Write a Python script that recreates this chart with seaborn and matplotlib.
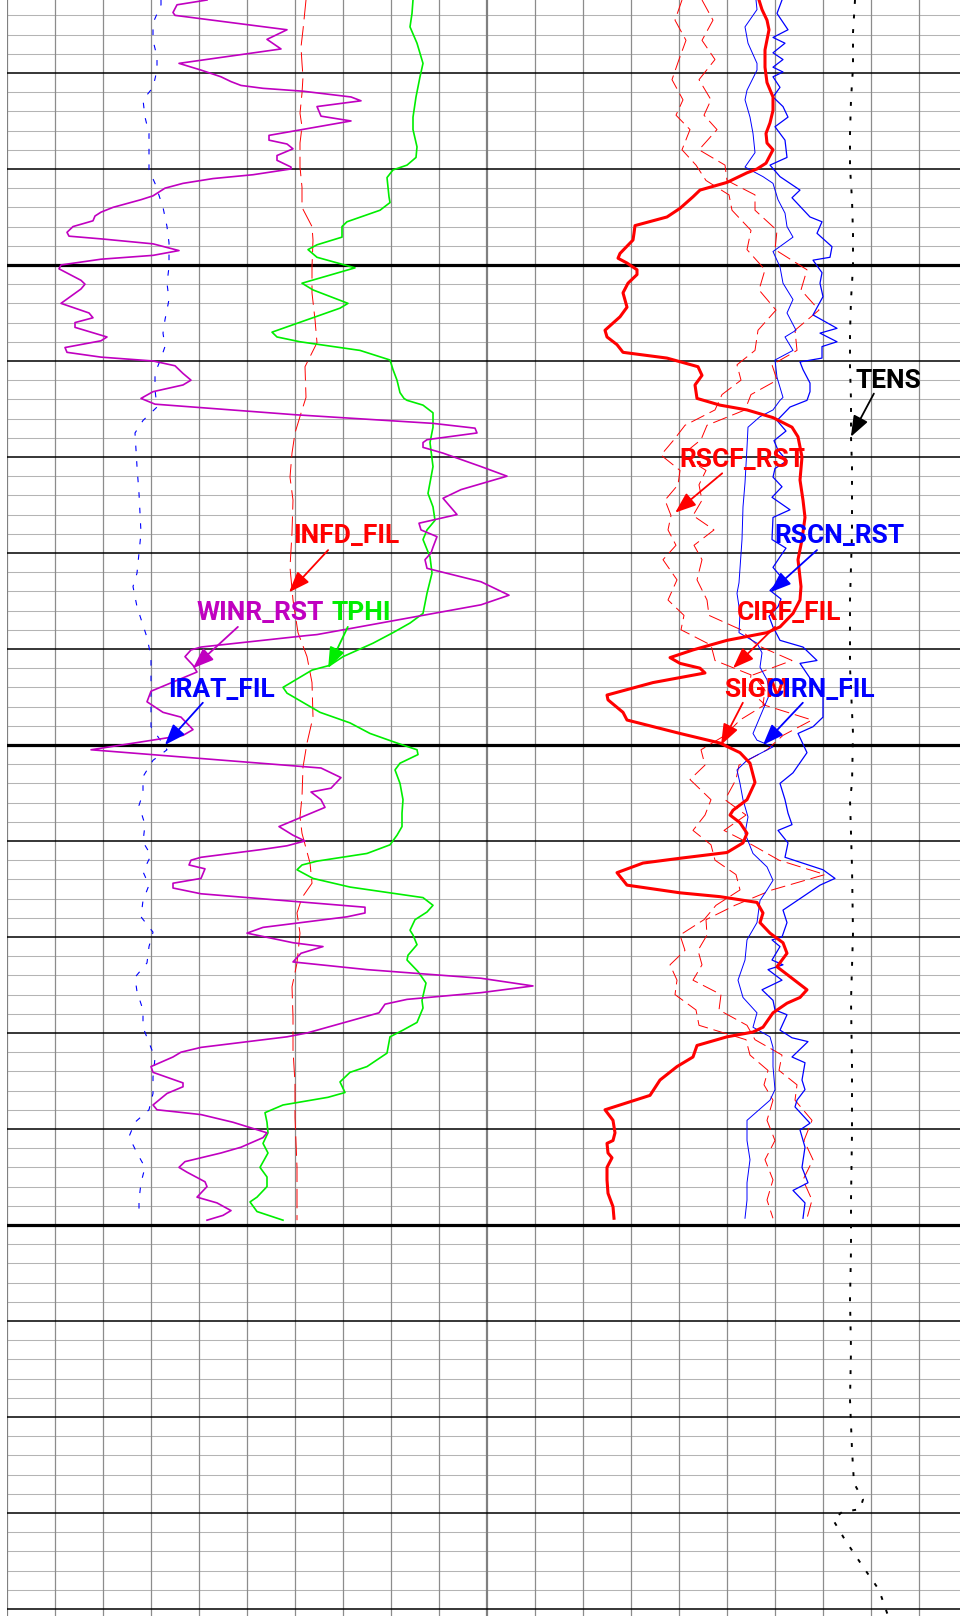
import matplotlib
matplotlib.use("Agg")
import matplotlib.pyplot as plt
import seaborn as sns

# depth window of the log (ft)
top_depth = 5272.4
bottom_depth = 5440.73

# ---------------- left track curves ----------------
# WINR_RST, scale 0 - 2.4
winr_depth = [5272.4, 5272.9, 5273.7, 5274.0, 5275.5, 5276.5, 5277.5, 5279.0, 5279.7, 5280.4,
              5280.9, 5281.3, 5281.6, 5281.9, 5282.5, 5282.9, 5283.5, 5284.5, 5285.0, 5286.5,
              5287.0, 5287.4, 5287.9, 5288.6, 5289.1, 5289.8, 5290.0, 5290.6, 5291.0, 5291.5,
              5292.0, 5292.8, 5293.2, 5294.0, 5294.5, 5294.9, 5295.4, 5296.0, 5296.6, 5297.0,
              5297.3, 5297.8, 5298.5, 5299.0, 5299.4, 5300.0, 5300.4, 5301.6, 5302.0, 5302.5,
              5304.0, 5305.0, 5305.5, 5306.0, 5306.5, 5307.5, 5307.9, 5308.6, 5309.1, 5309.6,
              5310.0, 5310.5, 5311.3, 5312.0, 5312.5, 5313.2, 5313.9, 5314.5, 5315.6, 5316.5,
              5317.0, 5317.5, 5318.2, 5318.5, 5319.0, 5319.6, 5321.0, 5322.0, 5323.4, 5324.3,
              5326.0, 5326.9, 5327.6, 5328.3, 5329.4, 5330.0, 5330.7, 5331.6, 5333.0, 5334.4,
              5335.4, 5338.5, 5338.6, 5339.8, 5340.1, 5340.8, 5341.7, 5342.4, 5344.4, 5345.5,
              5346.6, 5347.1, 5348.4, 5349.0, 5350.5, 5352.4, 5353.4, 5354.5, 5354.9, 5355.7,
              5356.5, 5358.5, 5359.4, 5360.0, 5360.5, 5360.9, 5361.7, 5362.0, 5362.5, 5362.9,
              5363.9, 5364.4, 5364.9, 5365.5, 5366.9, 5367.5, 5367.9, 5369.0, 5369.6, 5370.6,
              5371.0, 5371.7, 5372.6, 5373.4, 5374.3, 5375.1, 5375.8, 5376.5, 5377.0, 5377.9,
              5380.0, 5380.4, 5381.5, 5382.0, 5382.5, 5383.5, 5384.1, 5385.2, 5385.6, 5386.3,
              5387.5, 5388.0, 5388.5, 5389.3, 5390.4, 5390.9, 5391.9, 5392.5, 5393.4, 5394.0,
              5394.5, 5395.5, 5396.0, 5397.1, 5397.7, 5398.5, 5399.0, 5399.5]
winr_val = [1.00, 0.85, 0.83, 0.84, 1.40, 1.30, 1.37, 0.86, 0.97, 1.07,
            1.12, 1.17, 1.28, 1.48, 1.72, 1.77, 1.55, 1.57, 1.72, 1.31,
            1.31, 1.40, 1.43, 1.35, 1.35, 1.42, 1.42, 1.23, 1.03, 0.88,
            0.79, 0.73, 0.67, 0.53, 0.47, 0.44, 0.43, 0.33, 0.30, 0.31,
            0.48, 0.73, 0.86, 0.73, 0.47, 0.27, 0.26, 0.37, 0.39, 0.37,
            0.27, 0.41, 0.43, 0.34, 0.34, 0.50, 0.47, 0.29, 0.30, 0.47,
            0.73, 0.84, 0.88, 0.92, 0.88, 0.73, 0.67, 0.74, 1.44, 2.13,
            2.34, 2.35, 2.10, 2.08, 2.08, 2.18, 2.37, 2.50, 2.27, 2.18,
            2.25, 2.06, 2.07, 2.15, 2.13, 2.12, 2.09, 2.10, 2.37, 2.51,
            2.37, 1.55, 1.50, 0.97, 0.92, 0.89, 0.93, 0.95, 0.72, 0.70,
            0.78, 0.87, 0.93, 0.88, 0.42, 1.57, 1.67, 1.62, 1.52, 1.57,
            1.59, 1.36, 1.43, 1.49, 1.40, 1.27, 0.97, 0.92, 0.91, 0.99,
            0.97, 0.83, 0.83, 0.97, 1.79, 1.79, 1.70, 1.28, 1.20, 1.43,
            1.58, 1.47, 1.43, 1.80, 2.37, 2.63, 2.37, 2.00, 1.89, 1.86,
            1.50, 1.40, 0.97, 0.87, 0.83, 0.72, 0.73, 0.88, 0.88, 0.80,
            0.73, 0.75, 0.97, 1.13, 1.30, 1.28, 1.17, 1.07, 0.89, 0.86,
            0.90, 0.99, 1.00, 0.95, 1.05, 1.12, 1.08, 1.00]

# IRAT_FIL, scale 0 - 2.4
irat_depth = [5272.4, 5272.9, 5274.8, 5276.6, 5278.3, 5279.7, 5281.5, 5282.8, 5284.6, 5286.3,
              5288.0, 5290.1, 5291.5, 5294.0, 5296.0, 5297.7, 5300.2, 5301.9, 5303.6, 5305.7,
              5307.1, 5308.5, 5309.7, 5311.3, 5313.0, 5314.8, 5316.2, 5317.5, 5321.0, 5323.8,
              5327.9, 5332.1, 5333.5, 5335.6, 5338.8, 5340.8, 5342.9, 5344.6, 5348.1, 5350.5,
              5351.6, 5353.3, 5355.0, 5356.3, 5358.3, 5360.1, 5361.5, 5363.2, 5364.6, 5366.2,
              5367.9, 5369.5, 5371.0, 5372.7, 5374.2, 5375.7, 5377.6, 5379.4, 5381.0, 5382.6,
              5384.6, 5386.3, 5388.0, 5389.3, 5390.8, 5392.5, 5394.0, 5395.6, 5397.4, 5399.3]
irat_val = [0.77, 0.77, 0.73, 0.73, 0.75, 0.75, 0.73, 0.68, 0.69, 0.71,
            0.71, 0.71, 0.74, 0.78, 0.80, 0.81, 0.81, 0.80, 0.81, 0.79,
            0.78, 0.79, 0.77, 0.74, 0.74, 0.75, 0.68, 0.64, 0.65, 0.66,
            0.67, 0.65, 0.63, 0.65, 0.70, 0.72, 0.72, 0.72, 0.72, 0.80,
            0.73, 0.68, 0.68, 0.66, 0.69, 0.68, 0.72, 0.68, 0.71, 0.68,
            0.67, 0.73, 0.71, 0.70, 0.64, 0.65, 0.68, 0.68, 0.71, 0.74,
            0.73, 0.73, 0.71, 0.64, 0.61, 0.65, 0.69, 0.67, 0.66, 0.66]

# INFD_FIL, scale 0 - 4800
infd_depth = [5272.4, 5275.5, 5277.3, 5279.0, 5280.4, 5282.1, 5284.2, 5285.6, 5287.3, 5289.8,
              5291.9, 5294.0, 5296.0, 5297.4, 5300.2, 5302.9, 5305.7, 5308.1, 5310.6, 5313.8,
              5315.1, 5317.5, 5319.6, 5322.1, 5324.5, 5327.9, 5331.5, 5334.9, 5338.3, 5340.8,
              5343.5, 5347.1, 5349.8, 5352.3, 5355.4, 5357.5, 5359.2, 5362.3, 5364.4, 5365.9,
              5367.5, 5369.6, 5372.7, 5375.2, 5378.3, 5381.8, 5385.2, 5388.8, 5394.0, 5399.5]
infd_val = [2990, 2960, 2940, 2950, 2960, 2950, 2930, 2950, 2930, 2930,
            2950, 2950, 3050, 3060, 3050, 3050, 3080, 3100, 2980, 2990,
            2950, 2880, 2850, 2830, 2860, 2850, 2830, 2860, 2910, 3000,
            3050, 3060, 3000, 2960, 2950, 2930, 2950, 3030, 3050, 2950,
            2900, 2930, 2900, 2850, 2860, 2860, 2880, 2880, 2900, 2900]

# TPHI, scale 0 - 0.48
tphi_depth = [5272.4, 5273.8, 5275.2, 5276.9, 5279.0, 5280.4, 5282.5, 5284.6, 5285.9, 5287.7,
              5288.8, 5289.6, 5290.1, 5290.9, 5292.9, 5293.5, 5294.3, 5295.5, 5296.0, 5297.1,
              5297.9, 5298.4, 5299.2, 5300.3, 5301.9, 5302.6, 5304.0, 5304.5, 5307.0, 5307.5,
              5308.0, 5308.9, 5309.9, 5310.9, 5312.0, 5313.3, 5313.9, 5314.1, 5314.6, 5315.4,
              5316.9, 5318.5, 5321.0, 5323.8, 5325.2, 5326.6, 5327.6, 5328.6, 5330.4, 5332.1,
              5334.2, 5336.3, 5337.3, 5338.3, 5339.4, 5340.8, 5341.7, 5342.2, 5344.0, 5344.6,
              5346.6, 5347.7, 5348.8, 5349.8, 5350.5, 5351.0, 5351.9, 5352.6, 5354.0, 5355.7,
              5357.1, 5358.5, 5359.4, 5360.4, 5361.3, 5362.1, 5362.5, 5363.0, 5363.9, 5364.8,
              5365.9, 5366.7, 5367.4, 5368.2, 5369.3, 5369.8, 5370.8, 5371.9, 5372.4, 5373.6,
              5374.8, 5376.6, 5377.4, 5378.9, 5379.7, 5380.4, 5382.1, 5383.5, 5384.1, 5385.1,
              5386.2, 5386.7, 5387.5, 5388.3, 5389.3, 5390.4, 5391.5, 5392.5, 5394.0, 5395.0,
              5396.0, 5397.1, 5397.6, 5398.6, 5399.5]
tphi_val = [0.406, 0.405, 0.403, 0.410, 0.416, 0.413, 0.409, 0.406, 0.406, 0.410,
            0.409, 0.400, 0.386, 0.380, 0.382, 0.383, 0.373, 0.340, 0.335, 0.335,
            0.310, 0.301, 0.310, 0.348, 0.295, 0.306, 0.341, 0.333, 0.265, 0.270,
            0.293, 0.353, 0.383, 0.386, 0.390, 0.393, 0.397, 0.400, 0.416, 0.426,
            0.426, 0.423, 0.426, 0.421, 0.426, 0.428, 0.420, 0.416, 0.423, 0.425,
            0.420, 0.416, 0.403, 0.386, 0.366, 0.336, 0.323, 0.305, 0.276, 0.280,
            0.313, 0.343, 0.363, 0.390, 0.410, 0.411, 0.393, 0.388, 0.393, 0.396,
            0.395, 0.395, 0.390, 0.383, 0.360, 0.310, 0.295, 0.290, 0.306, 0.343,
            0.416, 0.426, 0.420, 0.408, 0.403, 0.406, 0.410, 0.401, 0.400, 0.411,
            0.419, 0.415, 0.416, 0.410, 0.396, 0.383, 0.380, 0.360, 0.343, 0.333,
            0.338, 0.321, 0.276, 0.258, 0.260, 0.261, 0.256, 0.261, 0.253, 0.260,
            0.260, 0.250, 0.243, 0.250, 0.276]

# ---------------- right track curves ----------------
# SIGM, scale 0 - 48
sigm_depth = [5272.4, 5273.4, 5274.5, 5275.5, 5277.6, 5279.4, 5281.0, 5282.5, 5283.9, 5285.2,
              5286.3, 5287.3, 5288.0, 5289.4, 5290.0, 5290.4, 5291.4, 5292.2, 5292.9, 5294.1,
              5295.0, 5295.9, 5296.7, 5297.4, 5298.8, 5299.3, 5299.8, 5300.5, 5301.0, 5301.9,
              5302.9, 5304.4, 5305.4, 5306.8, 5307.5, 5308.3, 5309.1, 5309.7, 5310.6, 5311.5,
              5312.5, 5313.9, 5314.6, 5315.1, 5315.9, 5316.9, 5317.9, 5320.0, 5322.4, 5324.5,
              5326.3, 5328.6, 5330.7, 5333.5, 5334.9, 5336.3, 5337.7, 5338.3, 5339.1, 5340.1,
              5340.9, 5341.5, 5342.0, 5342.5, 5343.5, 5344.8, 5345.3, 5346.6, 5347.4, 5348.8,
              5349.8, 5350.8, 5351.9, 5353.9, 5355.7, 5356.8, 5357.3, 5358.1, 5359.2, 5360.2,
              5361.2, 5361.8, 5362.3, 5363.3, 5364.6, 5365.4, 5365.8, 5366.4, 5367.5, 5368.5,
              5369.6, 5370.6, 5371.7, 5373.1, 5375.5, 5376.3, 5376.9, 5377.9, 5379.4, 5379.9,
              5380.4, 5381.3, 5382.5, 5383.5, 5384.9, 5386.5, 5388.0, 5389.1, 5390.4, 5391.2,
              5391.5, 5392.5, 5393.0, 5394.0, 5395.3, 5396.7, 5398.1, 5399.3]
sigm_val = [27.2, 27.5, 28.0, 28.2, 27.8, 27.8, 28.0, 28.6, 28.6, 28.3,
            27.9, 28.0, 28.6, 27.9, 27.0, 26.0, 24.0, 21.3, 20.6, 19.3,
            18.0, 14.8, 14.7, 14.6, 13.3, 13.1, 14.0, 15.0, 15.0, 14.1,
            13.6, 14.0, 13.3, 11.8, 12.0, 13.0, 13.6, 18.0, 21.1, 21.5,
            20.8, 21.0, 23.3, 26.0, 28.6, 30.5, 31.1, 31.5, 31.3, 31.6,
            31.8, 31.5, 31.1, 31.4, 31.3, 30.6, 29.3, 28.0, 24.0, 20.6,
            18.3, 19.3, 21.3, 21.8, 16.6, 12.0, 12.1, 13.6, 14.0, 19.3,
            23.3, 25.3, 26.3, 26.8, 26.0, 24.6, 24.3, 25.3, 26.0, 25.6,
            24.0, 19.3, 15.6, 13.0, 14.0, 19.3, 23.3, 27.0, 27.6, 27.3,
            28.3, 29.6, 30.0, 29.0, 32.0, 31.3, 30.0, 28.6, 27.6, 26.6,
            24.0, 21.0, 20.6, 19.0, 17.3, 16.3, 11.8, 12.6, 12.8, 12.6,
            12.0, 12.1, 12.5, 12.0, 12.0, 12.1, 12.6, 12.7]

# CIRN_FIL, scale 0 - 4800
cirn_depth = [5272.4, 5273.4, 5275.2, 5276.9, 5279.0, 5279.7, 5281.8, 5282.8, 5284.6, 5286.3,
              5288.3, 5289.8, 5290.8, 5291.5, 5293.2, 5294.6, 5296.0, 5297.1, 5298.6, 5300.2,
              5301.9, 5303.6, 5305.0, 5306.8, 5307.5, 5308.9, 5309.9, 5311.7, 5313.8, 5314.1,
              5315.1, 5315.8, 5316.9, 5319.0, 5322.7, 5325.2, 5328.6, 5333.1, 5334.2, 5336.3,
              5338.3, 5339.4, 5340.4, 5341.9, 5343.2, 5344.6, 5348.8, 5349.5, 5350.2, 5351.6,
              5352.6, 5354.0, 5355.7, 5357.5, 5359.2, 5361.3, 5362.7, 5364.1, 5365.1, 5366.2,
              5368.5, 5370.3, 5372.4, 5374.5, 5376.3, 5377.9, 5379.4, 5380.4, 5381.5, 5383.5,
              5385.9, 5387.0, 5389.1, 5391.2, 5393.2, 5395.6, 5397.4, 5399.3]
cirn_val = [2690, 2700, 2580, 2610, 2700, 2700, 2600, 2580, 2630, 2660,
            2680, 2580, 2760, 2860, 2910, 2980, 3000, 3060, 2860, 2930,
            2960, 3060, 3000, 3090, 2980, 3060, 2880, 2900, 2960, 2930,
            2860, 2730, 2610, 2600, 2580, 2560, 2550, 2520, 2500, 2530,
            2520, 2700, 2750, 2730, 2800, 2830, 2660, 2700, 2860, 2600,
            2500, 2530, 2560, 2610, 2580, 2660, 2800, 2860, 2800, 2730,
            2700, 2600, 2580, 2510, 2560, 2700, 2660, 2830, 2860, 2860,
            2880, 2830, 2600, 2600, 2630, 2600, 2600, 2580]

# RSCN_RST, scale 0 - 9600
rscn_depth = [5272.4, 5273.8, 5275.5, 5276.3, 5276.9, 5277.9, 5278.6, 5279.4, 5279.9, 5280.4,
              5281.5, 5282.5, 5283.5, 5284.6, 5285.6, 5287.0, 5288.8, 5289.6, 5290.8, 5292.2,
              5293.0, 5295.0, 5295.5, 5296.7, 5298.1, 5299.2, 5299.5, 5300.8, 5301.9, 5303.3,
              5305.2, 5306.6, 5307.1, 5308.0, 5308.5, 5309.7, 5310.1, 5310.9, 5312.3, 5313.2,
              5314.1, 5314.8, 5316.2, 5317.3, 5318.3, 5319.3, 5320.4, 5321.2, 5322.1, 5323.1,
              5324.2, 5325.5, 5326.3, 5328.6, 5329.5, 5330.4, 5331.5, 5332.6, 5333.9, 5334.8,
              5335.6, 5336.6, 5337.7, 5339.1, 5339.8, 5341.2, 5341.5, 5343.5, 5345.0, 5347.1,
              5348.1, 5348.8, 5350.8, 5352.9, 5354.0, 5355.7, 5357.1, 5358.3, 5358.9, 5360.2,
              5361.7, 5363.0, 5363.9, 5364.6, 5366.5, 5367.2, 5368.5, 5370.0, 5370.3, 5371.0,
              5372.4, 5372.9, 5373.4, 5374.5, 5375.5, 5376.6, 5377.6, 5378.1, 5379.7, 5380.5,
              5380.9, 5382.5, 5383.1, 5384.9, 5385.9, 5387.0, 5387.7, 5389.4, 5390.1, 5391.9,
              5394.0, 5395.6, 5396.4, 5397.7, 5399.3]
rscn_val = [5900, 5800, 6020, 5720, 5960, 5720, 5920, 5720, 5920, 5720,
            5860, 5720, 5920, 6020, 5760, 5960, 6000, 5660, 5860, 6260,
            6100, 6460, 6700, 6600, 6900, 6860, 6520, 6700, 6660, 6720,
            6520, 7000, 6660, 7000, 6700, 6700, 6260, 6320, 6460, 6460,
            6400, 6060, 5800, 5980, 5740, 5820, 6000, 5760, 5720, 5900,
            5700, 6060, 5720, 5700, 5980, 5860, 5720, 5900, 5660, 5880,
            5820, 5640, 5720, 5860, 6320, 6600, 6260, 6520, 6720, 6720,
            6520, 6220, 6400, 6120, 5860, 5960, 6020, 6100, 5820, 6020,
            5960, 6720, 6960, 6660, 6120, 5920, 6000, 5900, 5700, 5860,
            5700, 5920, 5620, 5900, 5500, 5720, 5760, 6000, 5860, 6100,
            6420, 6100, 6360, 6300, 6360, 6200, 6160, 6460, 6260, 6360,
            6300, 6420, 6120, 6360, 6320]

# RSCF_RST (scale 0 - 9600) and CIRF_FIL (scale 0 - 4800) share the same samples
filt_depth = [5272.4, 5274.5, 5276.6, 5278.6, 5280.7, 5282.8, 5284.4, 5285.9, 5288.0, 5289.6,
              5291.2, 5292.7, 5294.3, 5296.4, 5298.4, 5300.5, 5302.6, 5304.7, 5306.8, 5308.9,
              5310.4, 5312.0, 5313.5, 5315.1, 5316.7, 5318.2, 5319.8, 5321.4, 5322.9, 5324.5,
              5326.1, 5327.6, 5329.2, 5330.7, 5332.8, 5334.9, 5336.5, 5338.0, 5339.6, 5341.2,
              5342.7, 5344.3, 5345.8, 5347.4, 5349.0, 5350.5, 5352.1, 5353.6, 5355.7, 5357.3,
              5358.9, 5360.4, 5362.0, 5363.5, 5365.1, 5366.7, 5368.2, 5369.8, 5371.4, 5372.9,
              5374.5, 5376.0, 5377.6, 5379.2, 5380.7, 5382.3, 5383.9, 5385.4, 5387.0, 5389.1,
              5391.2, 5393.2, 5395.3, 5397.4, 5399.3]
rscf_val = [3900, 3760, 3980, 3840, 3700, 3920, 3780, 4060, 3900, 4180,
            4380, 4840, 4900, 5280, 5200, 5560, 5440, 5780, 5420, 5360,
            5000, 5080, 4700, 4560, 3960, 3740, 3480, 3860, 3820, 3560,
            3680, 3620, 3780, 3520, 3800, 3620, 3940, 3880, 4480, 4560,
            5280, 5240, 5560, 5060, 4760, 4280, 4360, 4060, 4480, 4360,
            4120, 4480, 4560, 4980, 5060, 4580, 4340, 3860, 3960, 3660,
            3800, 3760, 4180, 4240, 5180, 5260, 5620, 5540, 5720, 5600,
            5760, 5560, 5720, 5600, 5720]
cirf_val = [2150, 2260, 2150, 2280, 2120, 2240, 2170, 2300, 2120, 2380,
            2400, 2680, 2680, 2900, 2880, 3200, 3140, 3320, 3080, 3100,
            2850, 2900, 2640, 2580, 2200, 2140, 1950, 2190, 2120, 2150,
            2060, 2270, 2070, 2150, 2100, 2200, 2220, 2540, 2700, 3050,
            2660, 2780, 2760, 3250, 2960, 2800, 2520, 2490, 2380, 2590,
            2370, 2650, 2920, 3380, 2850, 2480, 2190, 2200, 2110, 2150,
            2060, 2340, 2320, 2600, 2680, 2950, 2920, 3100, 3080, 3250,
            3170, 3260, 3160, 3250, 3200]

# TENS, scale 0 - 4800
tens_depth = [5272.4, 5275.8, 5279.4, 5282.8, 5286.3, 5289.8, 5293.2, 5296.7, 5300.2, 5303.6,
              5307.1, 5310.6, 5314.1, 5317.9, 5321.0, 5327.9, 5334.9, 5341.9, 5348.8, 5354.0,
              5355.7, 5362.7, 5369.6, 5376.6, 5383.5, 5390.4, 5397.4, 5402.6, 5407.8, 5413.0,
              5418.2, 5423.4, 5426.9, 5428.6, 5429.6, 5429.9, 5430.7, 5432.8, 5435.6, 5438.0,
              5440.4, 5441.2]
tens_val = [3680, 3660, 3660, 3640, 3630, 3630, 3650, 3660, 3660, 3640,
            3630, 3630, 3640, 3640, 3650, 3650, 3630, 3630, 3660, 3650,
            3630, 3650, 3660, 3640, 3650, 3650, 3640, 3640, 3630, 3640,
            3630, 3650, 3670, 3760, 3730, 3550, 3460, 3580, 3760, 3920,
            4000, 4030]

# curve labels: name, colour, track, text pos, arrow start, arrow tip (track divisions, depth)
label_names = ["INFD_FIL", "WINR_RST", "TPHI", "IRAT_FIL",
               "TENS", "RSCF_RST", "RSCN_RST", "CIRF_FIL", "SIGM", "CIRN_FIL"]
label_colors = ["#ff0000", "#c000c0", "#00ee00", "#0000ff",
                "#000000", "#ff0000", "#0000ff", "#ff0000", "#ff0000", "#0000ff"]
label_track = [0, 0, 0, 0, 1, 1, 1, 1, 1, 1]
label_pos = [(5.96, 5329.0), (3.94, 5337.0), (6.77, 5337.0), (3.35, 5345.0),
             (7.67, 5312.8), (4.00, 5321.0), (5.98, 5329.0), (5.21, 5337.0),
             (4.94, 5345.0), (5.83, 5345.0)]
arrow_start = [(6.69, 5329.7), (4.81, 5337.7), (7.10, 5337.7), (4.08, 5345.6),
               (8.06, 5313.4), (4.90, 5321.7), (6.875, 5329.7), (6.00, 5337.7),
               (5.33, 5345.6), (6.58, 5345.6)]
arrow_tip = [(5.875, 5334.1), (3.875, 5342.0), (6.69, 5342.0), (3.29, 5350.0),
             (7.58, 5317.9), (3.92, 5325.8), (5.90, 5334.1), (5.125, 5342.0),
             (4.875, 5350.0), (5.75, 5350.0)]

label_font = ["Roboto", "DejaVu Sans"]

fig = plt.figure(figsize=(9.6, 16.16), dpi=100)
ax_left = fig.add_axes([7 / 960, 0, 480 / 960, 1])
ax_right = fig.add_axes([487 / 960, 0, 480 / 960, 1])
tracks = [ax_left, ax_right]

# grid of each track
for ax in tracks:
    ax.set_xlim(0, 10)
    ax.axis("off")
    for d in range(5274, 5442, 2):
        if d % 50 == 0:
            ax.axhline(d, color="black", lw=2.3, zorder=3)
        elif d % 10 == 0:
            ax.axhline(d, color="black", lw=1.1, zorder=3)
        else:
            ax.axhline(d, color="#b4b4b4", lw=0.75, zorder=1)
    for t in range(11):
        if t in (0, 10):
            ax.axvline(t, color="#808080", lw=1.6, zorder=2)
        else:
            ax.axvline(t, color="#8c8c8c", lw=0.9, zorder=2)


def draw_curve(track, depth, values, scale, color, lw, ls="-"):
    cax = track.twiny()
    sns.lineplot(x=values, y=depth, ax=cax, sort=False, estimator=None,
                 color=color, lw=lw, linestyle=ls, clip_on=False)
    cax.set_xlim(*scale)
    cax.axis("off")
    return cax


draw_curve(ax_left, infd_depth, infd_val, (0, 4800), "#ff0000", 0.7, (0, (20, 7)))
draw_curve(ax_left, irat_depth, irat_val, (0, 2.4), "#0000ff", 0.8, (0, (5, 9)))
draw_curve(ax_left, tphi_depth, tphi_val, (0, 0.48), "#00ee00", 1.2)
draw_curve(ax_left, winr_depth, winr_val, (0, 2.4), "#c000c0", 1.2)

draw_curve(ax_right, tens_depth, tens_val, (0, 4800), "black", 1.4, (0, (2, 5.5)))
draw_curve(ax_right, filt_depth, rscf_val, (0, 9600), "#ff0000", 0.7, (0, (15, 6)))
draw_curve(ax_right, filt_depth, cirf_val, (0, 4800), "#ff0000", 0.7, (0, (15, 6)))
draw_curve(ax_right, cirn_depth, cirn_val, (0, 4800), "#0000ff", 0.7)
draw_curve(ax_right, rscn_depth, rscn_val, (0, 9600), "#0000ff", 0.9)
draw_curve(ax_right, sigm_depth, sigm_val, (0, 48), "#ff0000", 2.2)

# label layer on top of the curves
ann_axes = []
for ax in tracks:
    a = ax.twiny()
    a.set_xlim(0, 10)
    a.axis("off")
    ann_axes.append(a)

for name, col, trk, pos, st, tip in zip(label_names, label_colors, label_track,
                                         label_pos, arrow_start, arrow_tip):
    a = ann_axes[trk]
    a.annotate("", xy=tip, xytext=st, annotation_clip=False,
               arrowprops=dict(arrowstyle="-|>,head_length=0.85,head_width=0.32",
                               color=col, lw=1.3, mutation_scale=15,
                               shrinkA=0, shrinkB=0))
    a.text(pos[0], pos[1], name, color=col, fontsize=19, fontweight="bold",
           family=label_font, ha="left", va="baseline", clip_on=False)

for ax in tracks:
    ax.set_ylim(bottom_depth, top_depth)

fig.savefig("out.png", dpi=100)
